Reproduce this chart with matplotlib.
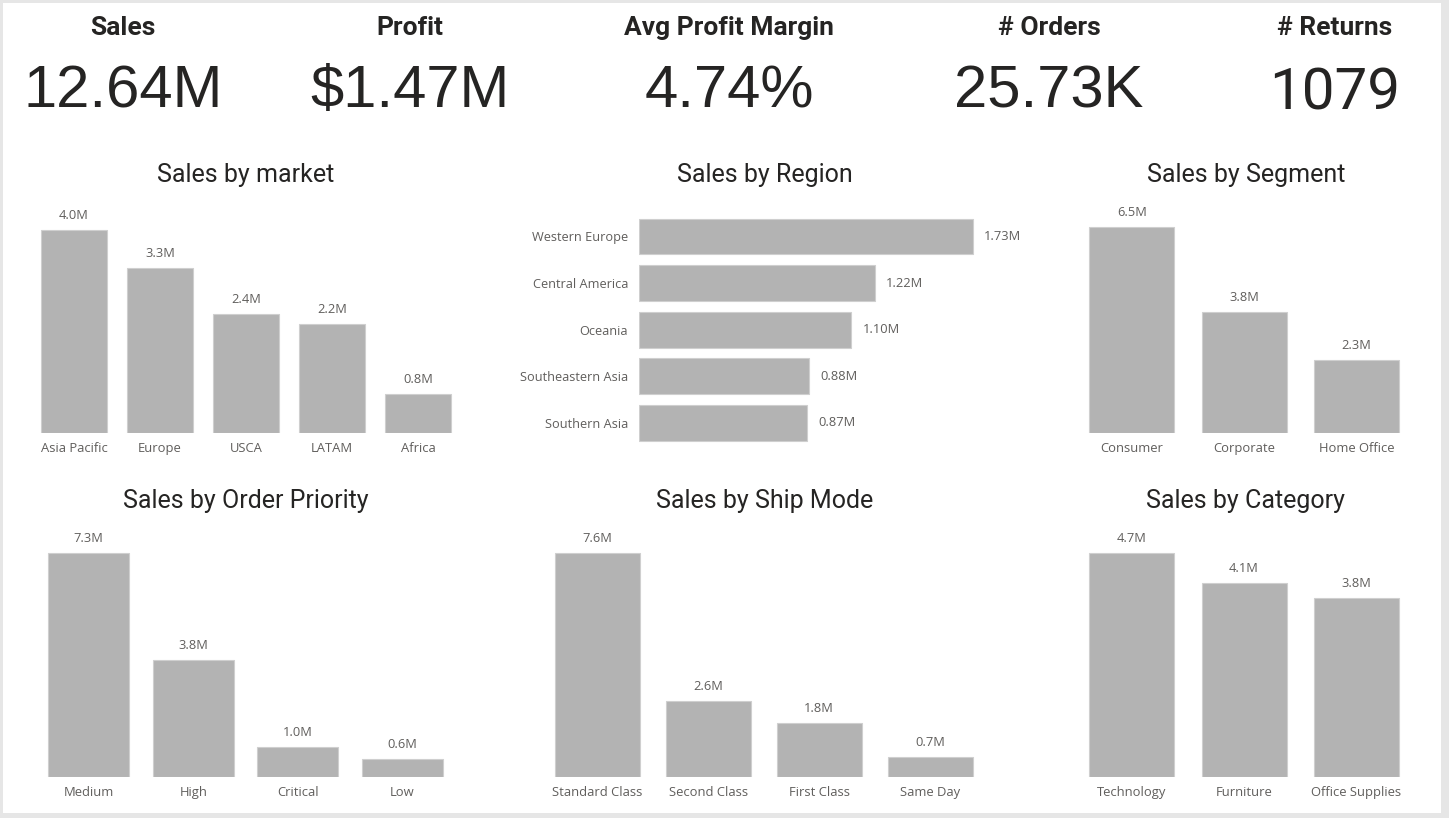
import matplotlib
matplotlib.use("Agg")
import matplotlib.pyplot as plt
from matplotlib.patches import Rectangle

# ---------------- data ----------------
kpi_titles = ["Sales", "Profit", "Avg Profit Margin", "# Orders", "# Returns"]
kpi_values = ["12.64M", "$1.47M", "4.74%", "25.73K", "1079"]

market_cats = ["Asia Pacific", "Europe", "USCA", "LATAM", "Africa"]
market_vals = [4.04, 3.28, 2.36, 2.16, 0.78]

region_cats = ["Western Europe", "Central America", "Oceania", "Southeastern Asia", "Southern Asia"]
region_vals = [1.73, 1.22, 1.10, 0.88, 0.87]

segment_cats = ["Consumer", "Corporate", "Home Office"]
segment_vals = [6.51, 3.82, 2.31]

priority_cats = ["Medium", "High", "Critical", "Low"]
priority_vals = [7.28, 3.81, 0.98, 0.57]

ship_cats = ["Standard Class", "Second Class", "First Class", "Same Day"]
ship_vals = [7.58, 2.57, 1.83, 0.66]

category_cats = ["Technology", "Furniture", "Office Supplies"]
category_vals = [4.74, 4.10, 3.79]

# ---------------- style ----------------
W, H = 1449, 818
BAR = "#B3B3B3"
EDGE = "#CFCFCF"
LBL = "#605E5C"
TITLE_FONT = ["Roboto", "DejaVu Sans"]
LABEL_FONT = ["Open Sans", "DejaVu Sans"]
KPI_FONT = ["Liberation Sans", "DejaVu Sans"]

fig = plt.figure(figsize=(W / 100, H / 100), dpi=100)
fig.patch.set_facecolor("#E6E6E6")
fig.patches.append(Rectangle((3 / W, 1 - 813 / H), (1441 - 3) / W, (813 - 3) / H,
                             transform=fig.transFigure, facecolor="white",
                             edgecolor="none", zorder=-10))


def fx(x):
    return x / W


def fy(y):
    return 1 - y / H


def add_ax(l, t, r, b):
    ax = fig.add_axes([fx(l), fy(b), (r - l) / W, (b - t) / H])
    ax.patch.set_alpha(0)
    for s in ax.spines.values():
        s.set_visible(False)
    return ax


# ---------------- KPI cards ----------------
kpi_x = [123, 410, 729, 1049, 1335]
for i, (t, v) in enumerate(zip(kpi_titles, kpi_values)):
    fig.text(fx(kpi_x[i]), fy(35), t, ha="center", va="baseline",
             fontsize=19, fontweight="bold", family=TITLE_FONT, color="#252423")
    if i == 4:
        fig.text(fx(kpi_x[i]), fy(109), v, ha="center", va="baseline",
                 fontsize=42, family=["Roboto", "DejaVu Sans"],
                 color="#252423")
    else:
        fig.text(fx(kpi_x[i]), fy(107), v, ha="center", va="baseline",
                 fontsize=43, family=KPI_FONT, color="#252423")


def title(x, y, s):
    fig.text(fx(x), fy(y), s, ha="center", va="baseline", fontsize=18,
             family=TITLE_FONT, color="#252423")


def vbar(cats, vals, c0, spacing, width_frac, bottom, top_max_px):
    n = len(cats)
    l = c0 - spacing / 2
    r = c0 + (n - 1) * spacing + spacing / 2
    t = top_max_px - 45
    ax = add_ax(l, t, r, bottom)
    ymax = max(vals) * (bottom - t) / (bottom - top_max_px)
    ax.bar(range(n), vals, width=width_frac, color=BAR, edgecolor=EDGE, linewidth=0.8)
    ax.set_xlim(-0.5, n - 0.5)
    ax.set_ylim(0, ymax)
    ax.set_yticks([])
    ax.set_xticks(range(n))
    ax.set_xticklabels(cats, fontsize=9.4, family=LABEL_FONT, color=LBL)
    ax.tick_params(axis="x", length=0, pad=6.5)
    for i, v in enumerate(vals):
        ax.annotate(f"{v:.1f}M", (i, v), xytext=(0, 10.5), textcoords="offset points",
                    ha="center", va="center", fontsize=9.3, family=LABEL_FONT, color=LBL)
    return ax


# Row 1
title(246, 182, "Sales by market")
vbar(market_cats, market_vals, 74, 86, 0.767, 433, 230)

title(765, 182, "Sales by Region")
n = len(region_cats)
c_first, c_step = 236.5, 46.6
axr = add_ax(639, c_first - c_step / 2, 1060, c_first + (n - 0.5) * c_step)
axr.barh(range(n), region_vals, height=0.77, color=BAR, edgecolor=EDGE, linewidth=0.8)
axr.set_ylim(n - 0.5, -0.5)
axr.set_xlim(0, max(region_vals) * (1060 - 639) / 334)
axr.set_xticks([])
axr.set_yticks(range(n))
axr.set_yticklabels(region_cats, fontsize=9.2, family=LABEL_FONT, color=LBL)
axr.tick_params(axis="y", length=0, pad=8)
for i, v in enumerate(region_vals):
    axr.annotate(f"{v:.2f}M", (v, i), xytext=(8, 0), textcoords="offset points",
                 ha="left", va="center", fontsize=9.3, family=LABEL_FONT, color=LBL)

title(1246, 182, "Sales by Segment")
vbar(segment_cats, segment_vals, 1131.8, 112.3, 0.757, 433, 227)

# Row 2
title(246, 508, "Sales by Order Priority")
vbar(priority_cats, priority_vals, 88.5, 104.7, 0.775, 777, 553)

title(765, 508, "Sales by Ship Mode")
vbar(ship_cats, ship_vals, 597.2, 111, 0.763, 777, 553)

title(1246, 508, "Sales by Category")
vbar(category_cats, category_vals, 1131.8, 112.3, 0.757, 777, 553)

fig.savefig("out.png", dpi=100, facecolor=fig.get_facecolor())
